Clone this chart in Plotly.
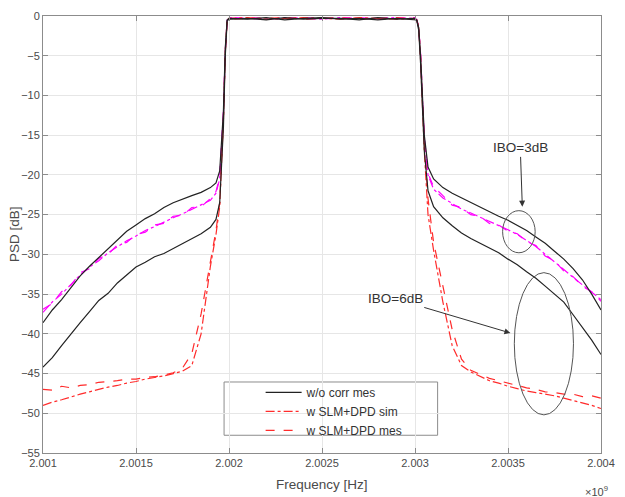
import plotly.graph_objects as go

# ---------------- data (frequency in GHz, PSD in dB) ----------------
freq_left = [2.00100, 2.00105, 2.00110, 2.00115, 2.00120, 2.00125, 2.00130, 2.00135,
             2.00140, 2.00145, 2.00150, 2.00155, 2.00160, 2.00165, 2.00170, 2.00175,
             2.00180, 2.00185, 2.00190, 2.00193, 2.00195, 2.00197, 2.00198, 2.00199]
freq_band = [2.0020, 2.0021, 2.0022, 2.0023, 2.0024, 2.0025, 2.0026, 2.0027, 2.0028, 2.0029, 2.0030]
freq_right = [2.00301, 2.00302, 2.00303, 2.00305, 2.00307, 2.00310, 2.00315, 2.00320,
              2.00325, 2.00330, 2.00335, 2.00340, 2.00345, 2.00350, 2.00355, 2.00360,
              2.00365, 2.00370, 2.00375, 2.00380, 2.00385, 2.00390, 2.00395, 2.00400]

# w/o corr mes, IBO = 3 dB
nocorr3_left = [-38.6, -37.0, -35.7, -34.2, -32.7, -31.5, -30.4, -29.3, -28.3, -27.1, -26.3, -25.5,
                -24.9, -24.1, -23.5, -23.0, -22.6, -22.2, -21.6, -21.0, -19.5, -12.0, -4.0, -0.5]
nocorr3_band = [-0.3, -0.4, -0.2, -0.5, -0.3, -0.2, -0.4, -0.3, -0.5, -0.3, -0.4]
nocorr3_right = [-0.5, -1.5, -5.0, -15.0, -19.0, -20.5, -21.6, -22.3, -22.9, -23.5, -24.0, -24.6,
                 -25.2, -25.7, -26.3, -27.0, -27.8, -28.6, -29.6, -30.6, -31.8, -33.2, -35.0, -37.0]

# w/o corr mes, IBO = 6 dB
nocorr6_left = [-44.2, -43.0, -41.5, -40.0, -38.6, -37.2, -35.8, -34.9, -33.6, -32.6, -31.6, -31.0,
                -30.3, -29.9, -29.3, -28.6, -28.0, -27.4, -26.6, -25.6, -23.5, -14.0, -5.0, -0.6]
nocorr6_band = [-0.4, -0.3, -0.5, -0.2, -0.4, -0.3, -0.3, -0.5, -0.2, -0.4, -0.3]
nocorr6_right = [-0.6, -1.8, -6.0, -17.0, -22.0, -24.0, -25.4, -26.4, -27.3, -28.0, -28.6, -29.1,
                 -29.8, -30.6, -31.3, -32.2, -33.0, -34.0, -35.0, -36.0, -37.6, -39.2, -40.8, -42.6]

# w SLM+DPD sim, IBO = 3 dB (magenta dash-dot)
slm3_sim_left = [-37.3, -36.0, -35.0, -33.8, -32.6, -31.6, -30.8, -29.8, -29.0, -28.3, -27.7, -27.0,
                 -26.5, -25.9, -25.4, -24.9, -24.3, -23.8, -23.2, -22.3, -20.5, -12.5, -4.5, -0.5]
slm3_sim_band = [-0.2, -0.3, -0.4, -0.2, -0.3, -0.4, -0.2, -0.3, -0.3, -0.2, -0.3]
slm3_sim_right = [-0.5, -1.5, -5.0, -15.5, -20.0, -21.8, -22.9, -23.6, -24.3, -24.8, -25.3, -25.9,
                  -26.4, -26.9, -27.5, -28.2, -29.0, -30.0, -30.9, -31.9, -32.9, -33.8, -34.8, -35.7]

# w SLM+DPD mes, IBO = 3 dB (magenta dashed)
slm3_mes_left = [-36.9, -36.2, -34.7, -33.9, -32.3, -31.8, -30.5, -30.0, -28.8, -28.5, -27.5, -27.2,
                 -26.3, -26.1, -25.2, -25.1, -24.1, -24.0, -23.0, -22.1, -20.2, -12.0, -4.3, -0.5]
slm3_mes_band = [-0.3, -0.2, -0.3, -0.4, -0.2, -0.3, -0.3, -0.2, -0.4, -0.3, -0.2]
slm3_mes_right = [-0.5, -1.4, -4.8, -15.2, -19.8, -21.5, -22.6, -23.8, -24.1, -25.0, -25.2, -26.1,
                  -26.3, -27.1, -27.4, -28.4, -28.9, -30.2, -30.8, -32.1, -32.8, -34.0, -34.7, -35.9]

# w SLM+DPD sim, IBO = 6 dB (red dash-dot)
slm6_sim_left = [-49.0, -48.6, -48.3, -47.9, -47.6, -47.3, -47.0, -46.7, -46.5, -46.2, -46.0, -45.7,
                 -45.5, -45.3, -45.0, -44.7, -44.0, -40.0, -31.5, -27.5, -24.0, -13.0, -4.5, -0.5]
slm6_sim_band = [-0.3, -0.2, -0.4, -0.3, -0.2, -0.3, -0.4, -0.2, -0.3, -0.4, -0.3]
slm6_sim_right = [-0.5, -1.5, -5.5, -17.0, -25.0, -29.5, -36.0, -41.5, -44.0, -44.8, -45.4, -45.9,
                  -46.2, -46.6, -46.9, -47.2, -47.4, -47.6, -47.8, -48.1, -48.4, -48.7, -49.0, -49.4]

# w SLM+DPD mes, IBO = 6 dB (red dashed)
slm6_mes_left = [-47.0, -47.1, -46.6, -46.8, -46.5, -46.4, -46.1, -46.0, -45.9, -45.7, -45.7, -45.5,
                 -45.4, -45.2, -44.9, -44.3, -42.5, -37.5, -31.0, -27.0, -23.5, -13.0, -4.5, -0.5]
slm6_mes_band = [-0.4, -0.3, -0.3, -0.2, -0.4, -0.3, -0.2, -0.4, -0.3, -0.2, -0.4]
slm6_mes_right = [-0.5, -1.5, -5.0, -16.0, -23.0, -28.5, -34.0, -39.5, -43.2, -44.6, -45.1, -45.6,
                  -45.9, -46.2, -46.5, -46.8, -47.0, -47.3, -47.4, -47.6, -47.6, -47.9, -47.8, -48.1]

x_ticks = [2.001, 2.0015, 2.002, 2.0025, 2.003, 2.0035, 2.004]
x_tick_text = ["2.001", "2.0015", "2.002", "2.0025", "2.003", "2.0035", "2.004"]
y_ticks = [0, -5, -10, -15, -20, -25, -30, -35, -40, -45, -50, -55]

freq = freq_left + freq_band + freq_right

# ---------------- figure ----------------
FONT = "Liberation Sans, Arial, Helvetica, sans-serif"
BLACK = "#222222"
RED = "#ff2b2b"
MAGENTA = "#ff00ff"

fig = go.Figure()
# magenta (IBO=3dB) curves, not in legend
fig.add_trace(go.Scatter(x=freq, y=slm3_mes_left + slm3_mes_band + slm3_mes_right, mode="lines",
                         line=dict(color=MAGENTA, width=1.2, dash="dash"), showlegend=False))
fig.add_trace(go.Scatter(x=freq, y=slm3_sim_left + slm3_sim_band + slm3_sim_right, mode="lines",
                         line=dict(color=MAGENTA, width=1.2, dash="dashdot"), showlegend=False))
# red (IBO=6dB) curves
fig.add_trace(go.Scatter(x=freq, y=slm6_sim_left + slm6_sim_band + slm6_sim_right, mode="lines",
                         name="w SLM+DPD sim", legendrank=2,
                         line=dict(color=RED, width=1.2, dash="dashdot")))
fig.add_trace(go.Scatter(x=freq, y=slm6_mes_left + slm6_mes_band + slm6_mes_right, mode="lines",
                         name="w SLM+DPD mes", legendrank=3,
                         line=dict(color=RED, width=1.2, dash="dash")))
# black curves
fig.add_trace(go.Scatter(x=freq, y=nocorr3_left + nocorr3_band + nocorr3_right, mode="lines",
                         name="w/o corr mes", legendrank=1,
                         line=dict(color=BLACK, width=1.2)))
fig.add_trace(go.Scatter(x=freq, y=nocorr6_left + nocorr6_band + nocorr6_right, mode="lines",
                         showlegend=False, line=dict(color=BLACK, width=1.2)))

axis_common = dict(showline=True, linecolor="#8c8c8c", linewidth=1, mirror="ticks",
                   ticks="inside", ticklen=5, tickcolor="#8c8c8c",
                   showgrid=True, gridcolor="#e6e6e6", gridwidth=1, zeroline=False,
                   tickfont=dict(family=FONT, size=11, color="#4a4a4a"))

fig.update_xaxes(range=[2.001, 2.004], tickvals=x_ticks, ticktext=x_tick_text, **axis_common)
fig.update_yaxes(range=[-55, 0], tickvals=y_ticks, **axis_common)

# legend box
fig.add_shape(type="rect", xref="paper", yref="paper", x0=0.3245, x1=0.7072, y0=0.0406, y1=0.1625,
              line=dict(color="#8c8c8c", width=1), fillcolor="white", layer="below")

# ellipses
fig.add_shape(type="circle", xref="x", yref="y", x0=2.003471, x1=2.003646, y0=-29.8, y1=-24.5,
              line=dict(color="#555555", width=1))
fig.add_shape(type="circle", xref="x", yref="y", x0=2.003534, x1=2.003852, y0=-50.2, y1=-32.3,
              line=dict(color="#555555", width=1))

annotations = [
    dict(x=2.003577, y=-24.0, ax=2.003566, ay=-16.6, axref="x", ayref="y", xref="x", yref="y",
         text="IBO=3dB", showarrow=True, arrowhead=2, arrowsize=1.2, arrowwidth=1,
         arrowcolor="#333333", font=dict(family=FONT, size=13.5, color="#333333")),
    dict(x=2.003513, y=-39.9, ax=2.002894, ay=-35.6, axref="x", ayref="y", xref="x", yref="y",
         text="IBO=6dB", showarrow=True, arrowhead=2, arrowsize=1.2, arrowwidth=1,
         arrowcolor="#333333", font=dict(family=FONT, size=13.5, color="#333333")),
    dict(x=0.5, y=-0.072, xref="paper", yref="paper", text="Frequency [Hz]", showarrow=False,
         xanchor="center", yanchor="middle", font=dict(family=FONT, size=13.5, color="#4a4a4a")),
    dict(x=-0.051, y=0.5, xref="paper", yref="paper", text="PSD [dB]", showarrow=False, textangle=-90,
         xanchor="center", yanchor="middle", font=dict(family=FONT, size=13.5, color="#4a4a4a")),
    dict(x=0.992, y=-0.086, xref="paper", yref="paper", text="\u00d710<sup>9</sup>", showarrow=False,
         xanchor="center", yanchor="middle", font=dict(family=FONT, size=11, color="#4a4a4a")),
]

fig.update_layout(
    width=625, height=497,
    margin=dict(l=43, r=15, t=10, b=44),
    paper_bgcolor="white", plot_bgcolor="white",
    annotations=annotations,
    legend=dict(x=0.39, y=0.172, xanchor="left", yanchor="top", bgcolor="rgba(0,0,0,0)",
                borderwidth=0, font=dict(family=FONT, size=12, color="#333333"),
                itemwidth=36, tracegroupgap=0, traceorder="normal"),
    font=dict(family=FONT),
)

fig.write_html("out.html")
